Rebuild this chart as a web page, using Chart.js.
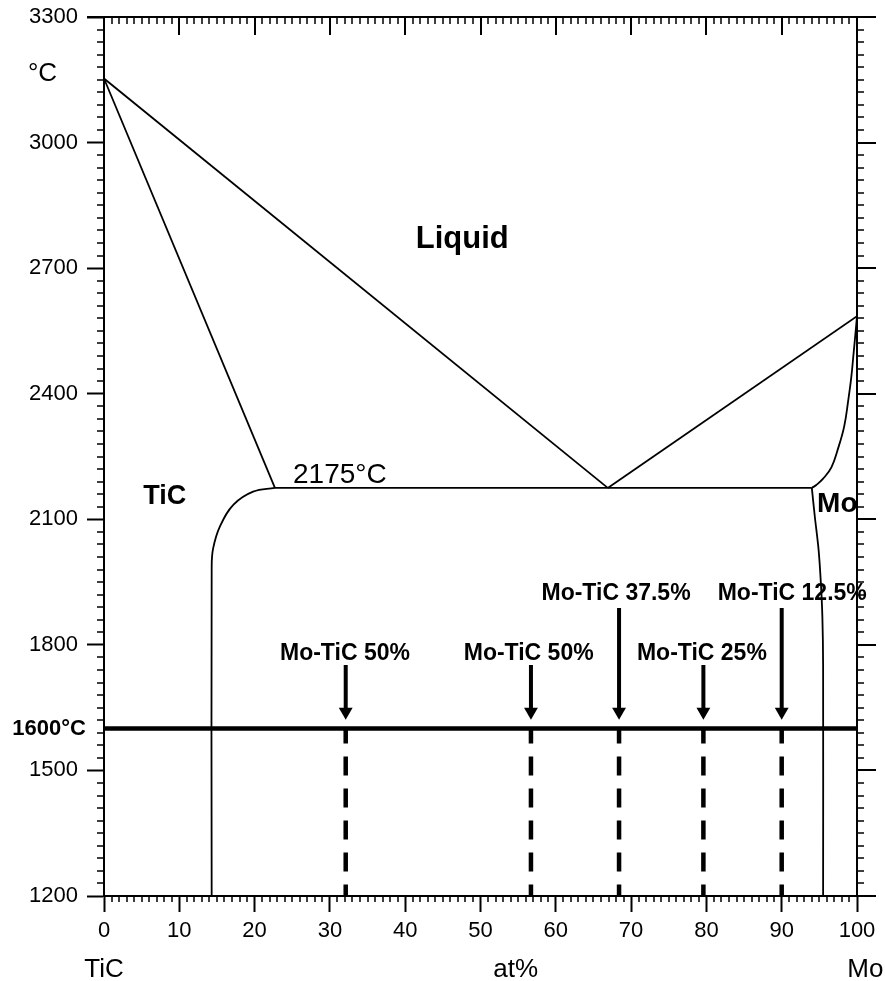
<!DOCTYPE html>
<html>
<head>
<meta charset="utf-8">
<title>TiC–Mo phase diagram</title>
<script src="https://cdn.jsdelivr.net/npm/chart.js@4.4.1/dist/chart.umd.min.js"></script>
<style>
  html, body { margin: 0; padding: 0; background: #fff; }
  #wrap { width: 885px; height: 981px; }
</style>
</head>
<body>
<div id="wrap"><canvas id="chart" width="885" height="981"></canvas></div>
<script>
// Axis ticks
const compositionTicks = [0, 10, 20, 30, 40, 50, 60, 70, 80, 90, 100];
const temperatureTicks = [1200, 1500, 1800, 2100, 2400, 2700, 3000, 3300];
const compositionMinorStep = 1;
const temperatureMinorStep = 30;

// Phase boundaries, [at% Mo, °C]
const eutecticT = 2175;
const liquidusTiC = [[0, 3153], [66.9, 2175]];
const solidusTiC = [[0, 3153], [22.7, 2175]];
const liquidusMo = [[66.9, 2175], [100, 2585]];
const eutecticLine = [[22.7, 2175], [94.0, 2175]];
const solvusTiC = [[22.7, 2175], [19.8, 2166], [17.2, 2135], [15.4, 2083], [14.5, 2031], [14.3, 1987], [14.3, 1200]];
const solidusMo = [[100, 2585], [99.8, 2545], [99.55, 2497], [99.25, 2441], [98.85, 2386], [98.3, 2322], [97.5, 2270], [96.6, 2224], [95.5, 2197], [94.6, 2182], [94.0, 2175]];
const solvusMo = [[94.0, 2175], [94.4, 2106], [94.9, 2027], [95.2, 1948], [95.4, 1868], [95.5, 1750], [95.5, 1200]];

// Sintering isotherm and the sample compositions
const isothermT = 1600;
const sampleX = [32.1, 56.7, 68.4, 79.6, 90.0];
const sampleNames = ['Mo-TiC 50%', 'Mo-TiC 50%', 'Mo-TiC 37.5%', 'Mo-TiC 25%', 'Mo-TiC 12.5%'];
const sampleLabelX = [32.0, 56.4, 68.0, 79.4, 91.4];
const sampleLabelT = [1764, 1764, 1908, 1764, 1908];
const arrowStartT = [1752, 1752, 1888, 1752, 1888];
const arrowHeadT = 1640;

// Region and axis annotations: [text, at% Mo, °C]
const regionNames = ['Liquid', 'TiC', 'Mo'];
const regionX = [41.4, 5.2, 94.7];
const regionT = [2749, 2137, 2118];
const eutecticLabel = '2175°C';
const eutecticLabelX = 25.1;
const eutecticLabelT = 2187;

const FONT = "'Liberation Sans', Arial, Helvetica, sans-serif";
Chart.defaults.font.family = FONT;
Chart.defaults.color = '#000';

const toPts = arr => arr.map(([x, y]) => ({ x, y }));
const boundary = (arr, smooth) => Object.assign({
  data: toPts(arr), showLine: true, borderColor: '#000', borderWidth: 1.8,
  pointRadius: 0, tension: 0, fill: false
}, smooth || {});

const datasets = [
  boundary(liquidusTiC),
  boundary(solidusTiC),
  boundary(liquidusMo),
  boundary(eutecticLine),
  boundary(solvusTiC, { tension: 0.4 }),
  boundary(solidusMo, { tension: 0.4 }),
  boundary(solvusMo, { tension: 0.3 }),
  {
    data: [{ x: 0, y: isothermT }, { x: 100, y: isothermT }],
    showLine: true, borderColor: '#000', borderWidth: 4.5, pointRadius: 0
  }
];

sampleX.forEach((sx, i) => {
  // arrow shaft with a downward triangle head
  datasets.push({
    data: [{ x: sx, y: arrowStartT[i] }, { x: sx, y: arrowHeadT }],
    showLine: true, borderColor: '#000', borderWidth: 4,
    pointRadius: [0, 8], pointStyle: 'triangle', pointRotation: 180,
    pointBackgroundColor: '#000', pointBorderColor: '#000', pointBorderWidth: 0
  });
  // dashed line below the isotherm
  datasets.push({
    data: [{ x: sx, y: isothermT }, { x: sx, y: 1200 }],
    showLine: true, borderColor: '#000', borderWidth: 4.5,
    borderDash: [19, 13], borderDashOffset: 4, pointRadius: 0
  });
});

// Frame, minor ticks and text annotations
const frameAndText = {
  id: 'frameAndText',
  afterDraw(chart) {
    const { ctx, chartArea: a, scales: { x, y } } = chart;
    const seg = (x1, y1, x2, y2) => { ctx.moveTo(x1, y1); ctx.lineTo(x2, y2); };
    ctx.save();
    ctx.strokeStyle = '#000';
    ctx.lineCap = 'butt';

    // top and right frame lines, with the corner major ticks
    ctx.lineWidth = 2;
    ctx.beginPath();
    seg(a.left - 17, a.top, a.right + 19, a.top);
    seg(a.right, a.top, a.right, a.bottom);
    seg(a.right, a.bottom, a.right + 19, a.bottom);
    ctx.stroke();

    const xMin = compositionTicks[0], xMax = compositionTicks[compositionTicks.length - 1];
    const yMin = temperatureTicks[0], yMax = temperatureTicks[temperatureTicks.length - 1];

    // composition axis: minor ticks below the bottom edge, ticks inside the top edge
    for (let v = xMin; v <= xMax + 1e-9; v += compositionMinorStep) {
      const px = Math.round(x.getPixelForValue(v));
      const major = compositionTicks.includes(v);
      ctx.lineWidth = major ? 2 : 1.5;
      ctx.beginPath();
      if (!major) seg(px, a.bottom, px, a.bottom + 6);
      seg(px, a.top, px, a.top + (major ? 18 : 7));
      ctx.stroke();
    }
    // temperature axis: minor ticks left, all ticks outward on the right
    for (let v = yMin; v <= yMax + 1e-9; v += temperatureMinorStep) {
      const py = Math.round(y.getPixelForValue(v));
      const major = temperatureTicks.includes(v);
      ctx.lineWidth = major ? 2 : 1.5;
      ctx.beginPath();
      if (!major) seg(a.left, py, a.left - 7, py);
      seg(a.right, py, a.right + (major ? 19 : 7), py);
      ctx.stroke();
    }

    ctx.fillStyle = '#000';
    const text = (s, vx, vy, size, bold, align, base) => {
      ctx.font = (bold ? 'bold ' : '') + size + 'px ' + FONT;
      ctx.textAlign = align;
      ctx.textBaseline = base || 'alphabetic';
      ctx.fillText(s, x.getPixelForValue(vx), y.getPixelForValue(vy));
    };

    // regions
    text(regionNames[0], regionX[0], regionT[0], 31, true, 'left');
    text(regionNames[1], regionX[1], regionT[1], 27, true, 'left');
    text(regionNames[2], regionX[2], regionT[2], 28, true, 'left');
    text(eutecticLabel, eutecticLabelX, eutecticLabelT, 28, false, 'left');

    // sample labels
    sampleNames.forEach((s, i) => text(s, sampleLabelX[i], sampleLabelT[i], 23, true, 'center'));

    // isotherm label left of the axis
    text(isothermT + '°C', -2.4, isothermT, 22, true, 'right', 'middle');

    // unit and end members
    text('°C', -10.1, 3146, 26, false, 'left');
    text('TiC', 0, 1006, 26, false, 'center');
    text('at%', 51.7, 1006, 26, false, 'left');
    text('Mo', 101.1, 1006, 26, false, 'center');

    ctx.restore();
  }
};

new Chart(document.getElementById('chart'), {
  type: 'scatter',
  data: { datasets },
  options: {
    responsive: false,
    animation: false,
    events: [],
    layout: { padding: { top: 17, right: 28, left: 0, bottom: 0 } },
    plugins: { legend: { display: false }, tooltip: { enabled: false } },
    scales: {
      x: {
        type: 'linear', position: 'bottom',
        min: compositionTicks[0], max: compositionTicks[compositionTicks.length - 1],
        afterBuildTicks: s => { s.ticks = compositionTicks.map(v => ({ value: v })); },
        afterFit: s => { s.height = 85; s.paddingLeft = 0; s.paddingRight = 0; },
        ticks: { font: { size: 22 }, color: '#000', padding: 6, maxRotation: 0, autoSkip: false,
                 callback: v => String(v) },
        grid: { drawOnChartArea: false, tickLength: 16, tickWidth: 2, tickColor: '#000' },
        border: { display: true, color: '#000', width: 2 }
      },
      y: {
        type: 'linear', position: 'left',
        min: temperatureTicks[0], max: temperatureTicks[temperatureTicks.length - 1],
        afterBuildTicks: s => { s.ticks = temperatureTicks.map(v => ({ value: v })); },
        afterFit: s => { s.width = 104; s.paddingTop = 0; s.paddingBottom = 0; },
        ticks: { font: { size: 22 }, color: '#000', padding: 9, autoSkip: false,
                 callback: v => String(v) },
        grid: { drawOnChartArea: false, tickLength: 17, tickWidth: 2, tickColor: '#000' },
        border: { display: true, color: '#000', width: 2 }
      }
    }
  },
  plugins: [frameAndText]
});
</script>
</body>
</html>
